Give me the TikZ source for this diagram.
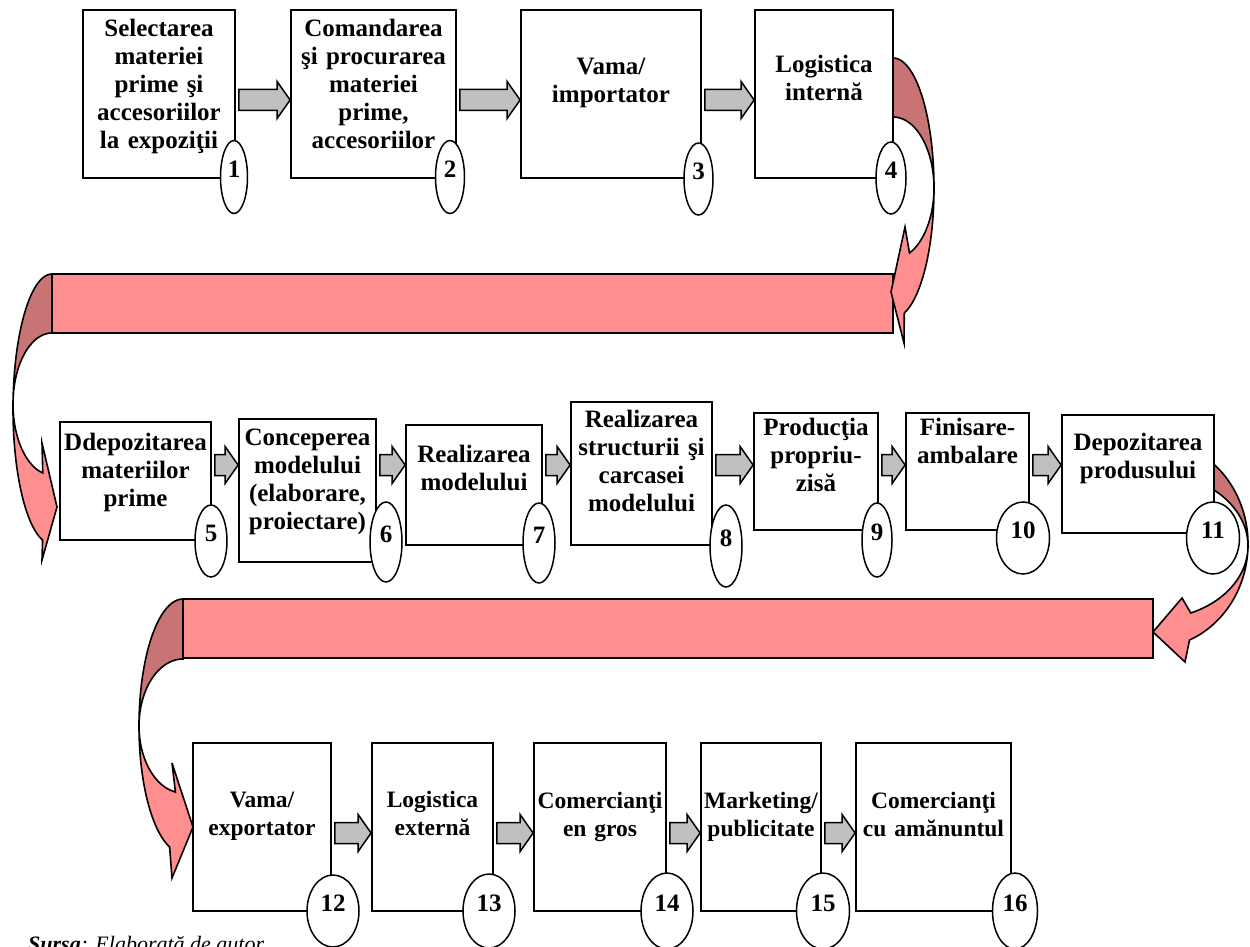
\documentclass[tikz,border=0pt]{standalone}
\usepackage{fontspec}
\setmainfont{Liberation Serif}
\usetikzlibrary{shapes.geometric,calc}
\definecolor{pinkL}{RGB}{255,143,143}
\definecolor{pinkD}{RGB}{200,116,116}
\definecolor{arrgray}{RGB}{192,192,192}
\tikzset{
  procbox/.style={draw=black, line width=1.8pt, fill=white, rectangle, inner sep=0pt},
  numell/.style={draw=black, line width=1.5pt, fill=white, ellipse, inner sep=0pt},
  numtxt/.style={inner sep=0pt, font=\bfseries\fontsize{25}{28}\selectfont},
  boxtxt/.style={anchor=base, text width=200pt, align=center, inner sep=0pt, font=\bfseries\fontsize{25}{28}\selectfont},
  boxtxtS/.style={anchor=base, text width=200pt, align=center, inner sep=0pt, font=\bfseries\fontsize{23.5}{28.5}\selectfont},
  blockarr/.style={draw=black, line width=1.5pt, fill=arrgray},
  curvD/.style={draw=black, line width=1.6pt, fill=pinkD},
  curvL/.style={draw=black, line width=1.6pt, fill=pinkL},
  barfill/.style={draw=black, line width=1.6pt, fill=pinkL}
}
\newcommand\bx[5]{\node[procbox, minimum width={#4-#2}, minimum height={#5-#3}] (#1) at ({(#2+#4)/2},{(#3+#5)/2}) {};}
\newcommand\nr[6]{\node[numell, minimum width={2*#4}, minimum height={2*#5}] (#1) at (#2,#3) {};
  \node[numtxt] (#1t) at ([yshift=8pt]#1.center) {#6};}
\newcommand\blockarrow[3]{%
  \draw[blockarr] ($(#1.east|-#3)+(3,10.5)$) -- ($(#2.west|-#3)+(-13,10.5)$) -- ($(#2.west|-#3)+(-13,18.5)$) -- (#2.west|-#3) -- ($(#2.west|-#3)+(-13,-18.5)$) -- ($(#2.west|-#3)+(-13,-10.5)$) -- ($(#1.east|-#3)+(3,-10.5)$) -- cycle;}
\begin{document}
\begin{tikzpicture}[x=1pt,y=-1pt]
\useasboundingbox (0,0) rectangle (1250,947);
\fill[white] (0,0) rectangle (1250,947);
\coordinate (row1) at (0,100);
\coordinate (row2) at (0,465);
\coordinate (row3) at (0,833);

% ---- curved connector 1 (box 4 -> bar 1)
\draw[curvD] plot[domain=-90:0, samples=40] ({893+41*cos(\x)},{188+130*sin(\x)})
  -- plot[domain=0:-90, samples=40] ({893+41*cos(\x)},{188+71*sin(\x)}) -- cycle;
\draw[barfill] (52,274) rectangle (893,333);
\draw[curvL] plot[domain=0:66.3, samples=40] ({893+41*cos(\x)},{188+71*sin(\x)})
  -- (905,227) -- (891,292) -- (904,343)
  -- plot[domain=74:0, samples=40] ({893+41*cos(\x)},{188+130*sin(\x)}) -- cycle;

% ---- curved connector 2 (bar 1 -> box 5)
\draw[curvD] plot[domain=-90:0, samples=40] ({52-39*cos(\x)},{409+135*sin(\x)})
  -- plot[domain=0:-90, samples=40] ({52-39*cos(\x)},{404+71*sin(\x)}) -- cycle;
\draw[curvL] plot[domain=0:76.3, samples=40] ({52-39*cos(\x)},{404+71*sin(\x)})
  -- (42,443) -- (57,507) -- (42,560)
  -- plot[domain=76:0, samples=40] ({52-39*cos(\x)},{409+135*sin(\x)}) -- cycle;

% ---- curved connector 3 (box 11 -> bar 2)
\draw[curvD] plot[domain=-50:0, samples=40] ({1153+95*cos(\x)},{544+104*sin(\x)})
  -- plot[domain=0:-50, samples=40] ({1153+95*cos(\x)},{546+73*sin(\x)}) -- cycle;
\draw[barfill] (183,599) rectangle (1153,658);
\draw[curvL] plot[domain=0:66.6, samples=40] ({1153+95*cos(\x)},{546+73*sin(\x)})
  -- (1182,598) -- (1153,632) -- (1185,662)
  -- plot[domain=67.4:0, samples=40] ({1153+95*cos(\x)},{544+104*sin(\x)}) -- cycle;

% ---- curved connector 4 (bar 2 -> box 12)
\draw[curvD] plot[domain=-90:0, samples=40] ({183-44*cos(\x)},{726+127*sin(\x)})
  -- plot[domain=0:-90, samples=40] ({183-44*cos(\x)},{726+67*sin(\x)}) -- cycle;
\draw[curvL] plot[domain=0:80.1, samples=40] ({183-44*cos(\x)},{726+67*sin(\x)})
  -- (172,763) -- (193,827) -- (172,878)
  -- plot[domain=72.3:0, samples=40] ({183-44*cos(\x)},{726+127*sin(\x)}) -- cycle;

% ---- boxes
\bx{b1}{83}{10}{235}{178}
\bx{b2}{291}{10}{456}{178}
\bx{b3}{521}{10}{701}{178}
\bx{b4}{755}{10}{893}{178}
\bx{b5}{60}{422}{211}{540}
\bx{b6}{239}{419}{376}{562}
\bx{b7}{406}{425}{542}{545}
\bx{b8}{571}{402}{712}{545}
\bx{b9}{754}{413}{878}{530}
\bx{b10}{906}{413}{1029}{530}
\bx{b11}{1062}{415}{1214}{533}
\bx{b12}{193}{743}{331}{911}
\bx{b13}{372}{743}{493}{911}
\bx{b14}{534}{743}{666}{911}
\bx{b15}{701}{743}{821}{911}
\bx{b16}{856}{743}{1011}{911}

% ---- texts
\node[boxtxt] (t1) at (159,37) {Selectarea\\materiei\\prime şi\\accesoriilor\\la expoziţii};
\node[boxtxt] (t2) at (373.5,37) {Comandarea\\şi procurarea\\materiei\\prime,\\accesoriilor};
\node[boxtxt] (t3) at (611,75) {Vama/\\importator};
\node[boxtxt] (t4) at (824,73) {Logistica\\internă};
\node[boxtxt] (t5) at (135.5,450) {Ddepozitarea\\materiilor\\prime};
\node[boxtxt] (t6) at (307.5,445) {Conceperea\\modelului\\(elaborare,\\proiectare)};
\node[boxtxt] (t7) at (474,462) {Realizarea\\modelului};
\node[boxtxt] (t8) at (641.5,427) {Realizarea\\structurii şi\\carcasei\\modelului};
\node[boxtxt] (t9) at (816,435) {Producţia\\propriu-\\zisă};
\node[boxtxt] (t10) at (967.5,435) {Finisare-\\ambalare};
\node[boxtxt] (t11) at (1138,450) {Depozitarea\\produsului};
\node[boxtxtS] (t12) at (262,807) {Vama/\\exportator};
\node[boxtxtS] (t13) at (432.5,807) {Logistica\\externă};
\node[boxtxtS] (t14) at (600,808) {Comercianţi\\en gros};
\node[boxtxtS] (t15) at (761,808) {Marketing/\\publicitate};
\node[boxtxtS] (t16) at (933.5,808) {Comercianţi\\cu amănuntul};

% ---- block arrows
\blockarrow{b1}{b2}{row1}
\blockarrow{b2}{b3}{row1}
\blockarrow{b3}{b4}{row1}
\blockarrow{b5}{b6}{row2}
\blockarrow{b6}{b7}{row2}
\blockarrow{b7}{b8}{row2}
\blockarrow{b8}{b9}{row2}
\blockarrow{b9}{b10}{row2}
\blockarrow{b10}{b11}{row2}
\blockarrow{b12}{b13}{row3}
\blockarrow{b13}{b14}{row3}
\blockarrow{b14}{b15}{row3}
\blockarrow{b15}{b16}{row3}

% ---- number ellipses
\nr{e1}{234}{177}{13.5}{36.5}{1}
\nr{e2}{450}{177}{14.5}{36.5}{2}
\nr{e3}{698.5}{179}{14.5}{36}{3}
\nr{e4}{891}{178}{15}{36}{4}
\nr{e5}{211}{541}{16}{36}{5}
\nr{e6}{386}{542}{16}{40}{6}
\nr{e7}{539}{543}{16}{40}{7}
\nr{e8}{726}{546}{16}{41}{8}
\nr{e9}{877}{540}{15}{37}{9}
\nr{e10}{1023}{538}{26.5}{36}{10}
\nr{e11}{1213}{538}{26.5}{36}{11}
\nr{e12}{333}{911}{26}{36}{12}
\nr{e13}{489}{911}{26}{37}{13}
\nr{e14}{667}{911}{26}{38}{14}
\nr{e15}{823}{911}{26.5}{38}{15}
\nr{e16}{1015}{911}{22.5}{38}{16}

% ---- source
\node[anchor=base west, inner sep=0pt, font=\itshape\fontsize{22}{26}\selectfont] (src) at (28,951) {\textbf{Sursa}: Elaborată de autor};
\end{tikzpicture}
\end{document}
